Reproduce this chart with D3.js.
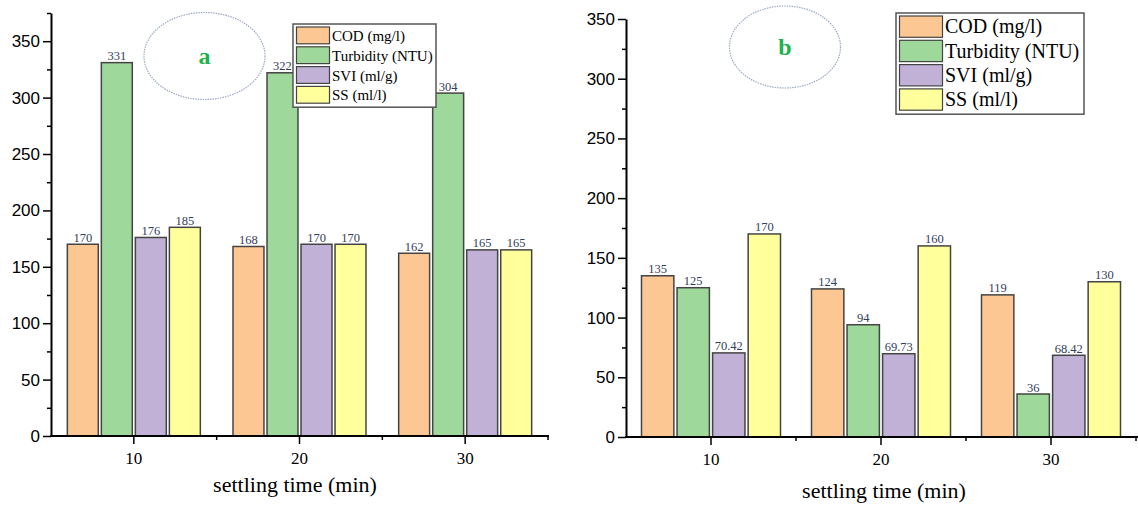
<!DOCTYPE html>
<html>
<head>
<meta charset="utf-8">
<script src="https://cdn.jsdelivr.net/npm/d3@7"></script>
<style>
  body { margin: 0; background: #fff; }
  svg { display: block; }
</style>
</head>
<body>
<div id="chart"></div>
<script>
// settling time categories and the four measured series
const categories = ["10", "20", "30"];
const seriesNames = ["COD (mg/l)", "Turbidity (NTU)", "SVI (ml/g)", "SS (ml/l)"];
const seriesColors = ["#fdc794", "#9ed99b", "#c1b1d7", "#ffff9b"];

// panel a
const codA = [170, 168, 162];
const turbidityA = [331, 322, 304];
const sviA = [176, 170, 165];
const ssA = [185, 170, 165];

// panel b
const codB = [135, 124, 119];
const turbidityB = [125, 94, 36];
const sviB = [70.42, 69.73, 68.42];
const ssB = [170, 160, 130];

const yTicks = [0, 50, 100, 150, 200, 250, 300, 350];
const xTitle = "settling time (min)";

const width = 1138;
const height = 505;

const svg = d3.select("#chart")
    .append("svg")
    .attr("width", width)
    .attr("height", height);

// one panel of grouped bars
function drawPanel(opts) {
    const g = svg.append("g");
    const series = [opts.cod, opts.turb, opts.svi, opts.ss];

    const x = d3.scaleBand()
        .domain(categories)
        .range([opts.left, opts.right]);

    const inner = d3.scaleBand()
        .domain(seriesNames)
        .range([-opts.groupHalf, opts.groupHalf])
        .paddingInner(0.09);

    const y = d3.scaleLinear()
        .domain([0, opts.yMax])
        .range([opts.bottom, opts.top]);

    // y axis with minor ticks
    const minor = d3.range(25, opts.yMax + 1, 50);
    g.append("g")
        .attr("transform", `translate(${opts.left},0)`)
        .call(d3.axisLeft(y).tickValues(minor).tickSize(4).tickFormat(""))
        .call(a => a.select(".domain").remove());
    const yAxis = g.append("g")
        .attr("transform", `translate(${opts.left},0)`)
        .call(d3.axisLeft(y).tickValues(yTicks).tickSize(8).tickSizeOuter(0).tickPadding(3));
    yAxis.selectAll("text")
        .attr("font-family", "Liberation Sans, Arial, sans-serif")
        .attr("font-size", 17)
        .attr("fill", "#000");
    g.selectAll(".tick line").attr("stroke", "#000").attr("stroke-width", 1.5);
    yAxis.select(".domain").attr("stroke", "#000").attr("stroke-width", 2);

    // bars
    categories.forEach((c, ci) => {
        const cx = x(c) + x.bandwidth() / 2;
        seriesNames.forEach((s, si) => {
            const v = series[si][ci];
            g.append("rect")
                .attr("x", cx + inner(s))
                .attr("y", y(v))
                .attr("width", inner.bandwidth())
                .attr("height", y(0) - y(v))
                .attr("fill", seriesColors[si])
                .attr("stroke", "#444")
                .attr("stroke-width", 1.5);
            g.append("text")
                .attr("x", cx + inner(s) + inner.bandwidth() / 2)
                .attr("y", y(v) - 2.5)
                .attr("text-anchor", "middle")
                .attr("font-family", "Liberation Serif, serif")
                .attr("font-size", opts.valueSize)
                .attr("fill", "#33405a")
                .text(v);
        });
    });

    // x axis
    const xAxis = g.append("g")
        .attr("transform", `translate(0,${opts.bottom})`)
        .call(d3.axisBottom(x).tickSize(8).tickSizeOuter(0).tickPadding(8));
    xAxis.select(".domain").remove();
    xAxis.selectAll("text")
        .attr("font-family", "Liberation Serif, serif")
        .attr("font-size", 17)
        .attr("fill", "#000");
    xAxis.selectAll(".tick line").attr("stroke", "#000").attr("stroke-width", 1.5);
    g.append("line")
        .attr("x1", opts.left - 1).attr("x2", opts.axisEnd)
        .attr("y1", opts.bottom).attr("y2", opts.bottom)
        .attr("stroke", "#000").attr("stroke-width", 2);
    // minor ticks at band edges
    categories.slice(1).forEach(c => {
        g.append("line")
            .attr("x1", x(c)).attr("x2", x(c))
            .attr("y1", opts.bottom).attr("y2", opts.bottom + 4)
            .attr("stroke", "#000").attr("stroke-width", 1.5);
    });
    g.append("line")
        .attr("x1", x.range()[1]).attr("x2", x.range()[1])
        .attr("y1", opts.bottom).attr("y2", opts.bottom + 4)
        .attr("stroke", "#000").attr("stroke-width", 1.5);

    g.append("text")
        .attr("x", opts.titleX)
        .attr("y", opts.titleY)
        .attr("text-anchor", "middle")
        .attr("font-family", "Liberation Serif, serif")
        .attr("font-size", 22)
        .attr("fill", "#000")
        .text(xTitle);

    // panel letter in dotted ellipse
    g.append("ellipse")
        .attr("cx", opts.ell[0]).attr("cy", opts.ell[1])
        .attr("rx", opts.ell[2]).attr("ry", opts.ell[3])
        .attr("fill", "none")
        .attr("stroke", "#9aaac4")
        .attr("stroke-width", 1.2)
        .attr("stroke-dasharray", "1.5,1");
    g.append("text")
        .attr("x", opts.ell[0]).attr("y", opts.ell[1] + 8)
        .attr("text-anchor", "middle")
        .attr("font-family", "Liberation Serif, serif")
        .attr("font-weight", "bold")
        .attr("font-size", 24)
        .attr("fill", "#1db24b")
        .text(opts.letter);

    // legend
    const L = opts.legend;
    const lg = g.append("g").attr("transform", `translate(${L.x},${L.y})`);
    lg.append("rect")
        .attr("width", L.w).attr("height", L.row * 4 + 4)
        .attr("fill", "#fff")
        .attr("stroke", "#555")
        .attr("stroke-width", 1.5);
    seriesNames.forEach((s, i) => {
        lg.append("rect")
            .attr("x", 3.5).attr("y", 3 + i * L.row)
            .attr("width", L.sw).attr("height", L.row - 3)
            .attr("fill", seriesColors[i])
            .attr("stroke", "#444")
            .attr("stroke-width", 1.2);
        lg.append("text")
            .attr("x", L.sw + 6)
            .attr("y", 2 + i * L.row + L.row * 0.76)
            .attr("font-family", "Liberation Serif, serif")
            .attr("font-size", L.font)
            .attr("fill", "#000")
            .text(s);
    });
}

drawPanel({
    cod: codA, turb: turbidityA, svi: sviA, ss: ssA,
    left: 51, right: 548, axisEnd: 549, groupHalf: 66.5,
    top: 13, bottom: 436, yMax: 375,
    valueSize: 12.5, titleX: 295, titleY: 492,
    ell: [204.5, 56, 60.5, 43.5], letter: "a",
    legend: { x: 293, y: 24, w: 143, row: 19.8, sw: 33, font: 15 }
});

drawPanel({
    cod: codB, turb: turbidityB, svi: sviB, ss: ssB,
    left: 626, right: 1136, axisEnd: 1138, groupHalf: 69.5,
    top: 19, bottom: 437, yMax: 350,
    valueSize: 12.5, titleX: 884, titleY: 498,
    ell: [785, 47, 55.5, 41], letter: "b",
    legend: { x: 896, y: 13, w: 188, row: 24.3, sw: 43, font: 20 }
});
</script>
</body>
</html>
